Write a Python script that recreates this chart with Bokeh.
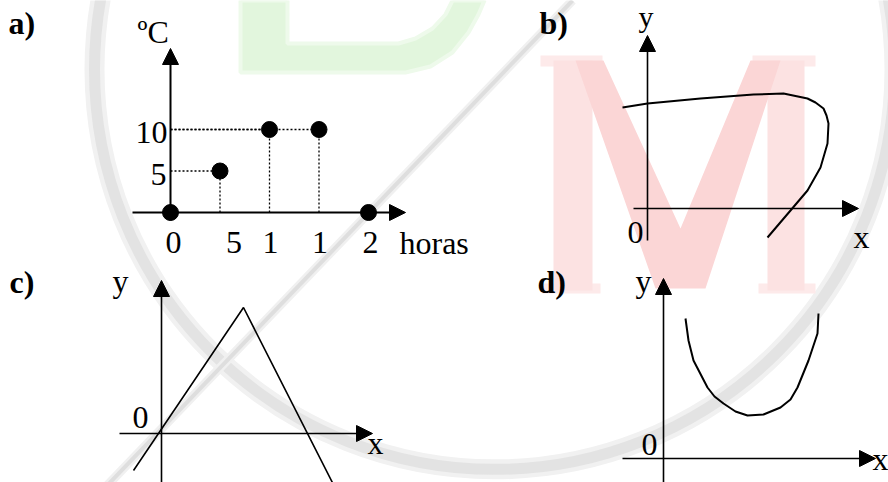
from bokeh.plotting import figure
from bokeh.models import Range1d, Arrow, NormalHead, ColumnDataSource
from bokeh.core.properties import value
from bokeh.embed import file_html
from bokeh.resources import INLINE

# ---------------- data ----------------
# a) temperature (ºC) against time (horas)
hours = [0, 5, 10, 15, 20]
temps = [0, 5, 10, 10, 0]
hour_tick_labels = ["0", "5", "1", "1", "2"]
temp_tick_values = [10, 5]
temp_tick_labels = ["10", "5"]

# b) closed-back curve (not a function)
b_x = [-2.5, 0.0, 5.3, 10.6, 13.6, 16.0, 16.8, 17.6, 17.9, 18.1, 18.0, 17.3, 16.0, 14.3, 12.0]
b_y = [10.1, 10.5, 11.0, 11.4, 11.5, 11.0, 10.6, 10.0, 9.3, 8.5, 6.5, 4.1, 1.8, -0.2, -2.9]

# c) triangle-shaped broken line
c_x = [-2.8, 8.2, 17.9]
c_y = [-3.7, 12.6, -6.5]

# d) parabola
d_x = [2.2, 2.5, 3.0, 4.4, 5.1, 6.0, 7.2, 8.4, 10.0, 11.7, 12.7, 13.4, 14.5, 15.0, 15.4, 15.5]
d_y = [14.0, 11.8, 9.8, 7.1, 6.2, 5.5, 4.7, 4.3, 4.4, 5.1, 5.9, 7.1, 9.8, 11.3, 12.5, 14.5]

# ---------------- layout ----------------
W, H = 888, 482
X0, X1, Y0, Y1 = 0, 888, 0, 482          # page coordinates of the frame
FONT = value("Liberation Serif")
FS = "32px"
TDY = -11                                 # baseline correction for text

p = figure(width=W, height=H, x_range=Range1d(X0, X1), y_range=Range1d(Y1, Y0),
           output_backend="svg", toolbar_location=None,
           x_axis_location=None, y_axis_location=None,
           min_border=0, outline_line_color=None,
           background_fill_color="white", border_fill_color="white")
p.grid.visible = False

# sub-graph placement: origin (page px) and px per unit
panels = {
    "a": (170, 212, 9.9, 8.3),
    "b": (647, 208, 10.0, 10.0),
    "c": (161, 433, 10.0, 10.0),
    "d": (663, 458, 10.0, 10.0),
}
for name, (ox, oy, sx, sy) in panels.items():
    p.extra_x_ranges[name] = Range1d((X0 - ox) / sx, (X1 - ox) / sx)
    p.extra_y_ranges[name] = Range1d((oy - Y1) / sy, (oy - Y0) / sy)

# ---------------- watermark ----------------
p.circle(x=[494], y=[69], radius=400, fill_color=None, line_color="#f1f1f1", line_width=20)
p.circle(x=[494], y=[69], radius=400, fill_color=None, line_color="#e3e3e3", line_width=11)
p.line(x=[572, 98], y=[0, 494], line_color="#f0f0f0", line_width=9)
p.line(x=[572, 98], y=[0, 494], line_color="#dedede", line_width=4)

# green "D"
D_x = [240, 240, 405, 430, 452, 468, 478, 484, 452, 445, 432, 415, 398, 287, 287]
D_y = [0, 72, 72, 66, 52, 32, 14, 0, 0, 14, 28, 38, 43, 43, 0]
p.patch(D_x, D_y, fill_color="#e2f6dd", line_color="#eefaeb", line_width=4)

# red "M"
M_stems_x = [[553, 553, 592, 592], [767, 767, 804, 804]]
M_stems_y = [[60, 290, 290, 60], [60, 290, 290, 60]]
M_serif_x = [[540, 540, 602, 602], [752, 752, 815, 815], [542, 542, 600, 600], [758, 758, 815, 815]]
M_serif_y = [[55, 66, 66, 55], [55, 66, 66, 55], [283, 293, 293, 283], [283, 293, 293, 283]]
p.patches(M_serif_x, M_serif_y, fill_color="#fdeaea", line_color=None)
p.patches(M_stems_x, M_stems_y, fill_color="#fce2e2", line_color=None)
V_x = [575, 603, 680, 750, 780, 705, 655]
V_y = [60, 60, 228, 60, 60, 288, 288]
p.patch(V_x, V_y, fill_color="#fbd6d6", line_color=None)

# ---------------- helpers ----------------
def axis_arrow(rn, xs, ys, xe, ye, lw):
    p.add_layout(Arrow(x_start=xs, y_start=ys, x_end=xe, y_end=ye,
                       x_range_name=rn, y_range_name=rn, line_width=lw, line_color="black",
                       end=NormalHead(size=16, fill_color="black", line_color="black", line_width=1)))

def label(x, y, txt, bold=False, size=FS):
    p.text(x=[x], y=[y + TDY], text=[txt], text_font=FONT, text_font_size=size,
           text_font_style="bold" if bold else "normal",
           text_baseline="alphabetic", text_align="left", text_color="black")

# ---------------- a) ----------------
hl = [(0, t, h, t) for h, t in zip(hours, temps) if h > 0 and t > 0]
vl = [(h, 0, h, t) for h, t in zip(hours, temps) if h > 0 and t > 0]
p.segment(x0=[s[0] for s in hl], y0=[s[1] for s in hl], x1=[s[2] for s in hl], y1=[s[3] for s in hl],
          line_color="black", line_width=1.3, line_dash="2 2", x_range_name="a", y_range_name="a")
p.segment(x0=[s[0] for s in vl], y0=[s[1] for s in vl], x1=[s[2] for s in vl], y1=[s[3] for s in vl],
          line_color="black", line_width=1.3, line_dash="2 2", x_range_name="a", y_range_name="a")
axis_arrow("a", -3.84, 0, 23.74, 0, 2.2)
axis_arrow("a", 0, -0.96, 0, 19.76, 2.0)
p.scatter(hours, temps, size=16, color="black", x_range_name="a", y_range_name="a")

xt = ColumnDataSource(dict(x=hours, y=[0] * len(hours), t=hour_tick_labels,
                           dx=[3, 14, 1, 1, 2], dy=[41 + TDY] * len(hours)))
p.text(x="x", y="y", text="t", x_offset="dx", y_offset="dy", source=xt,
       text_font=FONT, text_font_size=FS, text_align="center", text_baseline="alphabetic",
       x_range_name="a", y_range_name="a")
yt = ColumnDataSource(dict(x=[0] * len(temp_tick_values), y=temp_tick_values, t=temp_tick_labels,
                           dx=[-3, -4], dy=[14 + TDY, 14.5 + TDY]))
p.text(x="x", y="y", text="t", x_offset="dx", y_offset="dy", source=yt,
       text_font=FONT, text_font_size=FS, text_align="right", text_baseline="alphabetic",
       x_range_name="a", y_range_name="a")
label(8, 33, "a)", bold=True)
label(137, 42, "ºC")
label(399, 253, "horas")

# ---------------- b) ----------------
axis_arrow("b", -1.4, 0, 21.1, 0, 1.6)
axis_arrow("b", 0, -3.2, 0, 17.3, 1.6)
p.line(b_x, b_y, line_color="black", line_width=2, x_range_name="b", y_range_name="b")
label(539, 33, "b)", bold=True)
label(638, 27, "y", size="30px")
label(627, 243, "0")
label(853, 247, "x")

# ---------------- c) ----------------
axis_arrow("c", -4.2, 0, 21.1, 0, 1.6)
axis_arrow("c", 0, -6, 0, 15.3, 1.6)
p.line(c_x, c_y, line_color="black", line_width=1.6, x_range_name="c", y_range_name="c")
label(9, 292, "c)", bold=True)
label(112, 291, "y")
label(132, 428, "0")
label(367, 453, "x")

# ---------------- d) ----------------
axis_arrow("d", -4.1, 0, 21.2, 0, 1.6)
axis_arrow("d", 0, -3, 0, 18, 1.6)
p.line(d_x, d_y, line_color="black", line_width=2, x_range_name="d", y_range_name="d")
label(537, 292, "d)", bold=True)
label(635, 291, "y")
label(641, 455, "0")
label(872, 469, "x")

open("out.html", "w").write(file_html(p, INLINE))
